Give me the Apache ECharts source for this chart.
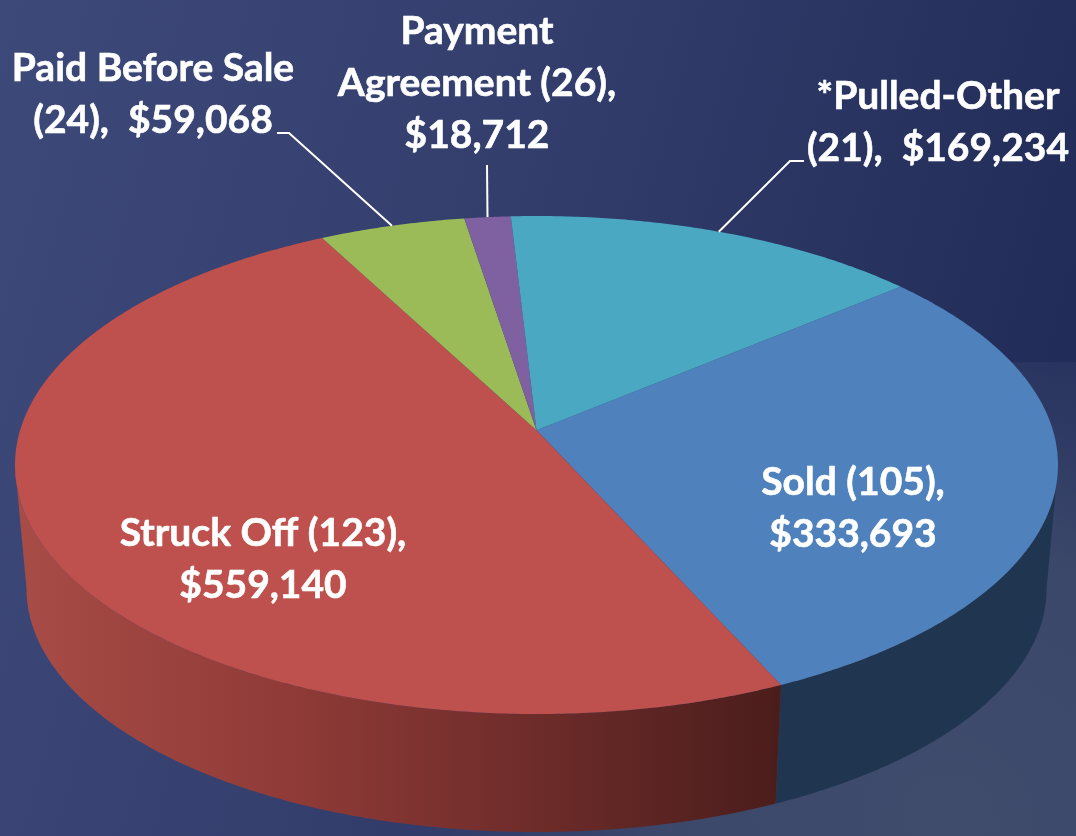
<!DOCTYPE html>
<html>
<head>
<meta charset="utf-8">
<style>
  html, body { margin: 0; padding: 0; background: #333e6c; }
  #main { width: 1076px; height: 836px; }
</style>
<script src="https://cdn.jsdelivr.net/npm/echarts@6/dist/echarts.min.js"></script>
</head>
<body>
<div id="main"></div>
<script>
// slices, clockwise from the teal/blue edge
const categories = ["Sold", "Struck Off", "Paid Before Sale", "Payment Agreement", "*Pulled-Other"];
const counts = [105, 123, 24, 26, 21];
const amounts = [333693, 559140, 59068, 18712, 169234];
const labelLines = [
  ["{name} ({count}),", "{amount}"],
  ["{name} ({count}),", "{amount}"],
  ["{name}", "({count}),  {amount}"],
  ["Payment", "Agreement ({count}),", "{amount}"],
  ["{name}", "({count}),  {amount}"],
];

const topColors = ["#4f81bd", "#be504d", "#9bbb59", "#7f60a0", "#4aa8c3"];
const labelPos = [[853, 508], [263, 559], [153, 94], [477, 83], [938, 122]];
// elbow and end of the leader, null = label sits on the slice
const leaders = [null, null, [[289, 133], [277, 133]], [[487, 165]], [[790, 161], [804, 161]]];

// pie seen in perspective
const cx = 536.5, cy = 465, rx = 521.5, ry = 249;
const k = 0.14; // how far the pie centre sits above the ellipse centre (as a share of ry)
const shrink = 0.978, vanishY = 6078; // bottom rim
const startDeg = -39.8;
const total = amounts.reduce((a, b) => a + b, 0);
// the wall only shows between the two points where the rim turns back
const edgeDeg = (Math.asin(k) * 180) / Math.PI;

function rim(deg) {
  const t = (deg * Math.PI) / 180;
  const d = 1 - k * Math.sin(t);
  return [
    cx + (rx * Math.cos(t) * Math.sqrt(1 - k * k)) / d,
    cy + (ry * (Math.sin(t) - k)) / d,
  ];
}
function lower(p) {
  return [cx + (p[0] - cx) * shrink, vanishY + (p[1] - vanishY) * shrink];
}
function sliceAngles(i) {
  let a = startDeg;
  for (let j = 0; j < i; j++) a += (amounts[j] / total) * 360;
  return [a, a + (amounts[i] / total) * 360];
}
function arc(a0, a1) {
  const pts = [];
  const n = Math.ceil(Math.abs(a1 - a0) * 2);
  for (let s = 0; s <= n; s++) pts.push(rim(a0 + ((a1 - a0) * s) / n));
  return pts;
}
function money(v) {
  return "$" + v.toLocaleString("en-US");
}
function labelText(i) {
  return labelLines[i]
    .map((l) =>
      l.replace("{name}", categories[i]).replace("{count}", counts[i]).replace("{amount}", money(amounts[i]))
    )
    .join("\n");
}

const redWall = new echarts.graphic.LinearGradient(0, 0, 1, 0, [
  { offset: 0, color: "#a84c46" },
  { offset: 0.37, color: "#8f3a37" },
  { offset: 0.7, color: "#6b2b29" },
  { offset: 1, color: "#4a1d1b" },
]);
const wallFill = ["#1f3550", redWall, null, null, null];

const sliceData = amounts.map((v, i) => [i, v, counts[i]]);

const chart = echarts.init(document.getElementById("main"));
chart.setOption({
  animation: false,
  backgroundColor: new echarts.graphic.LinearGradient(0, 0, 1, 0.35, [
    { offset: 0, color: "#3d4979" },
    { offset: 0.45, color: "#343f6e" },
    { offset: 1, color: "#212c58" },
  ]),
  graphic: [
    {
      type: "rect",
      z: -1,
      shape: { x: 0, y: 362, width: 1076, height: 474 },
      style: {
        fill: new echarts.graphic.RadialGradient(950, 820, 560, [
          { offset: 0, color: "rgba(64,76,108,1)" },
          { offset: 0.5, color: "rgba(64,76,108,0.85)" },
          { offset: 1, color: "rgba(58,70,116,0)" },
        ], true),
      },
    },
  ],
  series: [
    {
      // side wall
      type: "custom",
      coordinateSystem: "none",
      z: 2,
      data: sliceData,
      renderItem(params, api) {
        const i = api.value(0);
        if (!wallFill[i]) return { type: "group", children: [] };
        const [a0, a1] = sliceAngles(i);
        const top = arc(Math.max(a0, edgeDeg), Math.min(a1, 180 - edgeDeg));
        const bottom = top.map(lower).reverse();
        return {
          type: "polygon",
          shape: { points: top.concat(bottom) },
          style: { fill: wallFill[i] },
        };
      },
    },
    {
      // top face
      type: "custom",
      coordinateSystem: "none",
      z: 3,
      data: sliceData,
      renderItem(params, api) {
        const i = api.value(0);
        const [a0, a1] = sliceAngles(i);
        return {
          type: "polygon",
          shape: { points: [[cx, cy - ry * k]].concat(arc(a0, a1)) },
          style: { fill: topColors[i] },
        };
      },
    },
    {
      // labels and leader lines
      type: "custom",
      coordinateSystem: "none",
      z: 4,
      data: sliceData,
      renderItem(params, api) {
        const i = api.value(0);
        const children = [
          {
            type: "text",
            x: labelPos[i][0],
            y: labelPos[i][1],
            style: {
              text: labelText(i),
              fill: "#ffffff",
              stroke: "#ffffff",
              lineWidth: 0.6,
              font: "bold 39px Lato",
              lineHeight: 52,
              align: "center",
              verticalAlign: "middle",
            },
          },
        ];
        if (leaders[i]) {
          const [a0, a1] = sliceAngles(i);
          children.push({
            type: "polyline",
            shape: { points: [rim((a0 + a1) / 2)].concat(leaders[i]) },
            style: { stroke: "#ffffff", lineWidth: 2, fill: "none" },
          });
        }
        return { type: "group", children };
      },
    },
  ],
});
</script>
</body>
</html>
